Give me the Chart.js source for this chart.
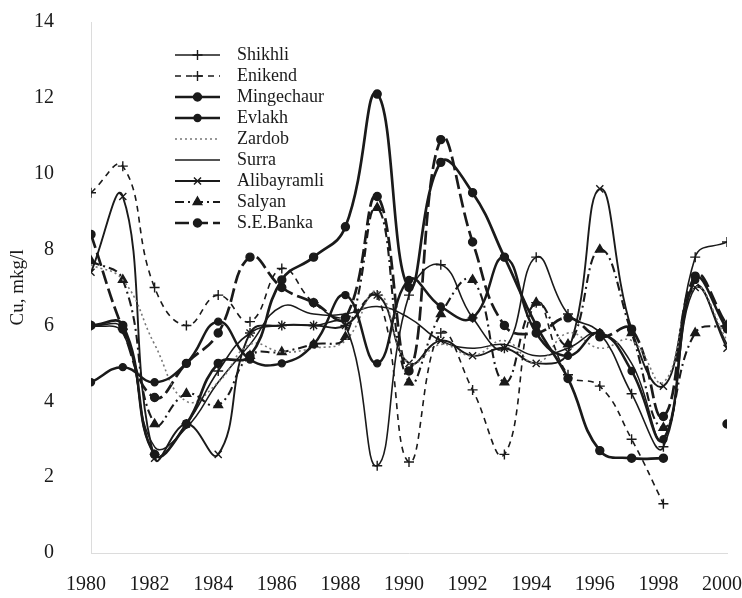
<!DOCTYPE html>
<html>
<head>
<meta charset="utf-8">
<script src="https://cdn.jsdelivr.net/npm/chart.js@4"></script>
<style>
  body { margin: 0; background: #fff; }
  #wrap { width: 742px; height: 598px; }
</style>
</head>
<body>
<div id="wrap"><canvas id="cu"></canvas></div>
<script>
// years on the x axis
const years = [1980, 1981, 1982, 1983, 1984, 1985, 1986, 1987, 1988, 1989, 1990,
               1991, 1992, 1993, 1994, 1995, 1996, 1997, 1998, 1999, 2000];

// Cu, mkg/l
const shikhli     = [6.0, 5.9, 2.6, 3.4, 4.8, 5.8, 6.0, 6.0, 6.0, 2.3, 6.8, 7.6, 6.2, 5.4, 7.8, 6.3, 5.8, 4.2, 2.8, 7.8, 8.2];
const enikend     = [9.5, 10.2, 7.0, 6.0, 6.8, 6.1, 7.5, 6.6, 6.2, 6.8, 2.4, 5.8, 4.3, 2.6, 6.6, 4.7, 4.4, 3.0, 1.3, null, null];
const mingechaur  = [6.0, 6.0, 2.6, 3.4, 5.0, 5.2, 7.2, 7.8, 8.6, 12.1, 7.0, 10.3, 9.5, 7.8, 6.0, 4.6, 2.7, 2.5, 2.5, null, 3.4];
const evlakh      = [4.5, 4.9, 4.5, 5.0, 6.1, 5.1, 5.0, 5.5, 6.8, 5.0, 7.2, 6.5, 6.2, 7.8, 5.8, 5.2, 5.8, 4.8, 3.0, 7.2, 5.9];
const zardob      = [7.6, 7.2, 5.5, 4.0, 4.5, 5.5, 5.3, 5.4, 5.6, 6.9, 5.0, 5.5, 5.2, 5.6, 5.0, 5.8, 5.4, 5.6, 4.5, 7.0, 5.6];
const surra       = [6.0, 5.8, 2.8, 3.3, 4.5, 5.5, 6.5, 6.3, 6.3, 6.5, 6.2, 5.6, 5.4, 5.5, 5.2, 5.4, 5.8, 5.0, 3.0, 7.0, 5.5];
const alibayramli = [7.4, 9.4, 2.5, 3.4, 2.6, 5.8, 6.0, 6.0, 6.0, 6.8, 5.0, 5.6, 5.2, 5.4, 5.0, 5.3, 9.6, 5.9, 4.4, 7.0, 5.4];
const salyan      = [7.7, 7.2, 3.4, 4.2, 3.9, 5.2, 5.3, 5.5, 5.7, 9.1, 4.5, 6.3, 7.2, 4.5, 6.6, 5.5, 8.0, 5.8, 3.3, 5.8, 6.0];
const seBanka     = [8.4, 5.9, 4.1, 5.0, 5.8, 7.8, 7.0, 6.6, 6.2, 9.4, 4.8, 10.9, 8.2, 6.0, 5.8, 6.2, 5.7, 5.9, 3.6, 7.3, 6.0];

const xTicks = [1980, 1982, 1984, 1986, 1988, 1990, 1992, 1994, 1996, 1998, 2000];

const ink = '#1a1a1a';
Chart.defaults.font.family = '"Liberation Serif", "DejaVu Serif", serif';
Chart.defaults.color = ink;

function pts(vals) {
  return vals.map((v, i) => ({ x: years[i], y: v }));
}

function series(label, vals, style) {
  return Object.assign({
    label: label,
    data: pts(vals),
    borderColor: ink,
    backgroundColor: ink,
    pointBorderColor: ink,
    pointBackgroundColor: ink,
    borderWidth: 1.6,
    pointRadius: 0,
    pointBorderWidth: 1.4,
    tension: 0.45,
    spanGaps: false,
    fill: false
  }, style);
}

const datasets = [
  series('Shikhli', shikhli, { pointStyle: 'cross', pointRadius: 5 }),
  series('Enikend', enikend, { pointStyle: 'cross', pointRadius: 5, borderDash: [6, 5] }),
  series('Mingechaur', mingechaur, { pointStyle: 'circle', pointRadius: 4, borderWidth: 2.7 }),
  series('Evlakh', evlakh, { pointStyle: 'circle', pointRadius: 3.5, borderWidth: 2.5 }),
  series('Zardob', zardob, { borderColor: '#777', borderDash: [2, 3], borderWidth: 1.6 }),
  series('Surra', surra, { borderWidth: 1.5 }),
  series('Alibayramli', alibayramli, { pointStyle: 'crossRot', pointRadius: 5, borderWidth: 1.9 }),
  series('Salyan', salyan, { pointStyle: 'triangle', pointRadius: 5, borderWidth: 2.1, borderDash: [9, 4, 2, 4] }),
  series('S.E.Banka', seBanka, { pointStyle: 'circle', pointRadius: 4, borderWidth: 2.7, borderDash: [14, 5] })
];

// legend drawn inside the plot, upper left
const insideLegend = {
  id: 'insideLegend',
  afterDraw(chart) {
    const ctx = chart.ctx;
    const x0 = 175, x1 = 220, tx = 237, y0 = 55, dy = 21;
    ctx.save();
    chart.data.datasets.forEach((ds, i) => {
      const y = y0 + i * dy;
      ctx.strokeStyle = ds.borderColor;
      ctx.lineWidth = ds.borderWidth;
      ctx.setLineDash(ds.borderDash || []);
      ctx.beginPath();
      ctx.moveTo(x0, y);
      ctx.lineTo(x1, y);
      ctx.stroke();
      ctx.setLineDash([]);
      if (ds.pointRadius > 0) {
        ctx.fillStyle = ink;
        ctx.strokeStyle = ink;
        ctx.lineWidth = ds.pointBorderWidth;
        Chart.helpers.drawPoint(ctx, {
          pointStyle: ds.pointStyle, radius: ds.pointRadius,
          borderWidth: ds.pointBorderWidth, rotation: 0
        }, (x0 + x1) / 2, y);
      }
      ctx.fillStyle = ink;
      ctx.font = '18px "Liberation Serif", serif';
      ctx.textBaseline = 'middle';
      ctx.textAlign = 'left';
      ctx.fillText(ds.label, tx, y);
    });
    ctx.restore();
  }
};

new Chart(document.getElementById('cu'), {
  type: 'line',
  data: { datasets: datasets },
  options: {
    responsive: true,
    maintainAspectRatio: false,
    animation: false,
    layout: { padding: { top: 22, right: 15, bottom: 0, left: 0 } },
    plugins: { legend: { display: false }, tooltip: { enabled: false } },
    scales: {
      x: {
        type: 'linear',
        min: 1980,
        max: 2000,
        afterBuildTicks: (s) => { s.ticks = xTicks.map(v => ({ value: v })); },
        afterFit: (s) => { s.height = 45; s.paddingLeft = 0; s.paddingRight = 0; },
        grid: { display: false, drawTicks: false },
        border: { display: true, color: '#dcdcdc', width: 1 },
        ticks: {
          font: { size: 20 },
          color: ink,
          padding: 20,
          labelOffset: -5,
          maxRotation: 0,
          autoSkip: false,
          callback: (v) => String(v)
        }
      },
      y: {
        min: 0,
        max: 14,
        afterFit: (s) => { s.width = 91; s.paddingTop = 0; s.paddingBottom = 0; },
        grid: { display: false, drawTicks: false },
        border: { display: true, color: '#dcdcdc', width: 1 },
        ticks: { stepSize: 2, font: { size: 20 }, color: ink, padding: 37 },
        title: {
          display: true,
          text: 'Cu, mkg/l',
          font: { size: 19 },
          color: ink,
          padding: { top: 7, bottom: 0 }
        }
      }
    }
  },
  plugins: [insideLegend]
});
</script>
</body>
</html>
